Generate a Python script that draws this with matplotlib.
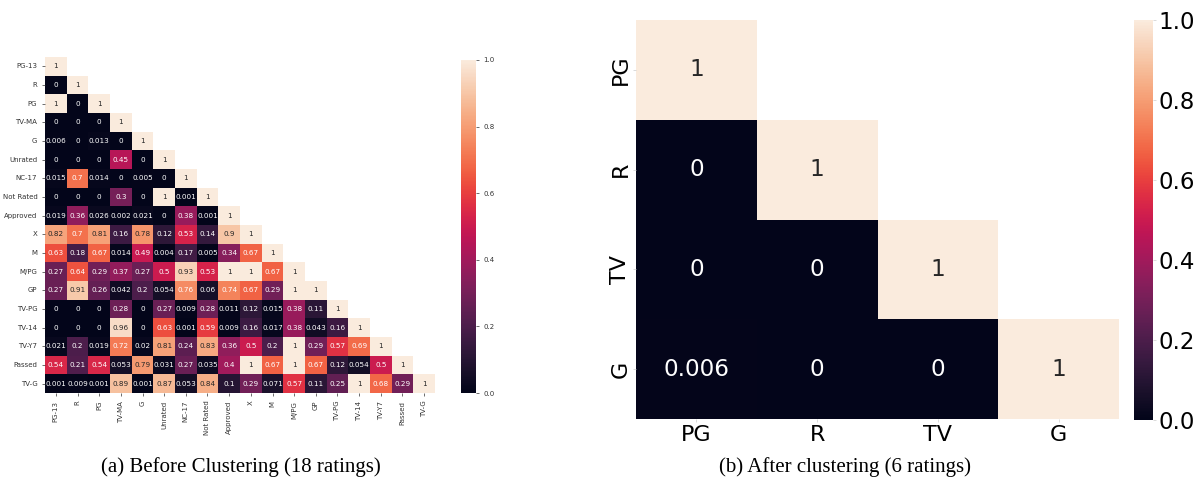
import numpy as np
import matplotlib
matplotlib.use("Agg")
import matplotlib.pyplot as plt
import seaborn as sns

labels_a = ["PG-13", "R", "PG", "TV-MA", "G", "Unrated", "NC-17", "Not Rated",
            "Approved", "X", "M", "M/PG", "GP", "TV-PG", "TV-14", "TV-Y7",
            "Passed", "TV-G"]
rows_a = [
    [1],
    [0, 1],
    [1, 0, 1],
    [0, 0, 0, 1],
    [0.006, 0, 0.013, 0, 1],
    [0, 0, 0, 0.45, 0, 1],
    [0.015, 0.7, 0.014, 0, 0.005, 0, 1],
    [0, 0, 0, 0.3, 0, 1, 0.001, 1],
    [0.019, 0.36, 0.026, 0.002, 0.021, 0, 0.38, 0.001, 1],
    [0.82, 0.7, 0.81, 0.16, 0.78, 0.12, 0.53, 0.14, 0.9, 1],
    [0.63, 0.18, 0.67, 0.014, 0.49, 0.004, 0.17, 0.005, 0.34, 0.67, 1],
    [0.27, 0.64, 0.29, 0.37, 0.27, 0.5, 0.93, 0.53, 1, 1, 0.67, 1],
    [0.27, 0.91, 0.26, 0.042, 0.2, 0.054, 0.76, 0.06, 0.74, 0.67, 0.29, 1, 1],
    [0, 0, 0, 0.28, 0, 0.27, 0.009, 0.28, 0.011, 0.12, 0.015, 0.38, 0.11, 1],
    [0, 0, 0, 0.96, 0, 0.63, 0.001, 0.59, 0.009, 0.16, 0.017, 0.38, 0.043, 0.16, 1],
    [0.021, 0.2, 0.019, 0.72, 0.02, 0.81, 0.24, 0.83, 0.36, 0.5, 0.2, 1, 0.29, 0.57, 0.69, 1],
    [0.54, 0.21, 0.54, 0.053, 0.79, 0.031, 0.27, 0.035, 0.4, 1, 0.67, 1, 0.67, 0.12, 0.054, 0.5, 1],
    [0.001, 0.009, 0.001, 0.89, 0.001, 0.87, 0.053, 0.84, 0.1, 0.29, 0.071, 0.57, 0.11, 0.25, 1, 0.68, 0.29, 1],
]

labels_b = ["PG", "R", "TV", "G"]
rows_b = [
    [1],
    [0, 1],
    [0, 0, 1],
    [0.006, 0, 0, 1],
]


def build(rows):
    n = len(rows)
    m = np.full((n, n), np.nan)
    for i, r in enumerate(rows):
        m[i, :len(r)] = r
    mask = np.triu(np.ones((n, n), dtype=bool), k=1)
    return np.nan_to_num(m), mask


W, H = 1203, 491
fig = plt.figure(figsize=(W / 100, H / 100), dpi=100)

def ax_px(x0, y0, x1, y1):
    return fig.add_axes([x0 / W, 1 - y1 / H, (x1 - x0) / W, (y1 - y0) / H])

# Left heatmap
m_a, mask_a = build(rows_a)
ax1 = ax_px(45, 57, 435, 393)
cax1 = ax_px(461, 60, 476, 393)
sns.heatmap(m_a, mask=mask_a, annot=True, fmt=".2g", cmap="rocket", vmin=0, vmax=1,
            ax=ax1, cbar_ax=cax1, xticklabels=labels_a, yticklabels=labels_a,
            annot_kws={"size": 5.2})
ax1.tick_params(axis="both", labelsize=5, length=2, width=0.5, colors="#333333")
ax1.set_xticklabels(labels_a, rotation=90, fontsize=5)
ax1.set_yticklabels(labels_a, rotation=0, fontsize=5)
cax1.tick_params(labelsize=5, length=2, width=0.5, colors="#333333")
cax1.set_yticks([0, 0.2, 0.4, 0.6, 0.8, 1.0])
cax1.set_yticklabels(["0.0", "0.2", "0.4", "0.6", "0.8", "1.0"])
for s in cax1.spines.values():
    s.set_visible(False)

# Right heatmap
m_b, mask_b = build(rows_b)
ax2 = ax_px(636, 20, 1119, 419)
cax2 = ax_px(1134, 20, 1153, 420)
sns.heatmap(m_b, mask=mask_b, annot=True, fmt=".2g", cmap="rocket", vmin=0, vmax=1,
            ax=ax2, cbar_ax=cax2, xticklabels=labels_b, yticklabels=labels_b,
            annot_kws={"size": 16.7})
ax2.tick_params(axis="both", labelsize=16, length=2, width=0.5, color="#cccccc", pad=2)
ax2.set_xticklabels(labels_b, rotation=0, fontsize=16)
ax2.set_yticklabels(labels_b, rotation=90, fontsize=16, va="center")
cax2.tick_params(labelsize=16.5, length=2, width=0.5, color="#cccccc", pad=2)
cax2.set_yticks([0, 0.2, 0.4, 0.6, 0.8, 1.0])
cax2.set_yticklabels(["0.0", "0.2", "0.4", "0.6", "0.8", "1.0"])
for s in cax2.spines.values():
    s.set_visible(False)

fig.text(241 / W, 1 - 467 / H, "(a) Before Clustering (18 ratings)",
         ha="center", va="center", fontsize=15, family="Liberation Serif")
fig.text(845 / W, 1 - 467 / H, "(b) After clustering (6 ratings)",
         ha="center", va="center", fontsize=15, family="Liberation Serif")

fig.savefig("out.png", dpi=100)
